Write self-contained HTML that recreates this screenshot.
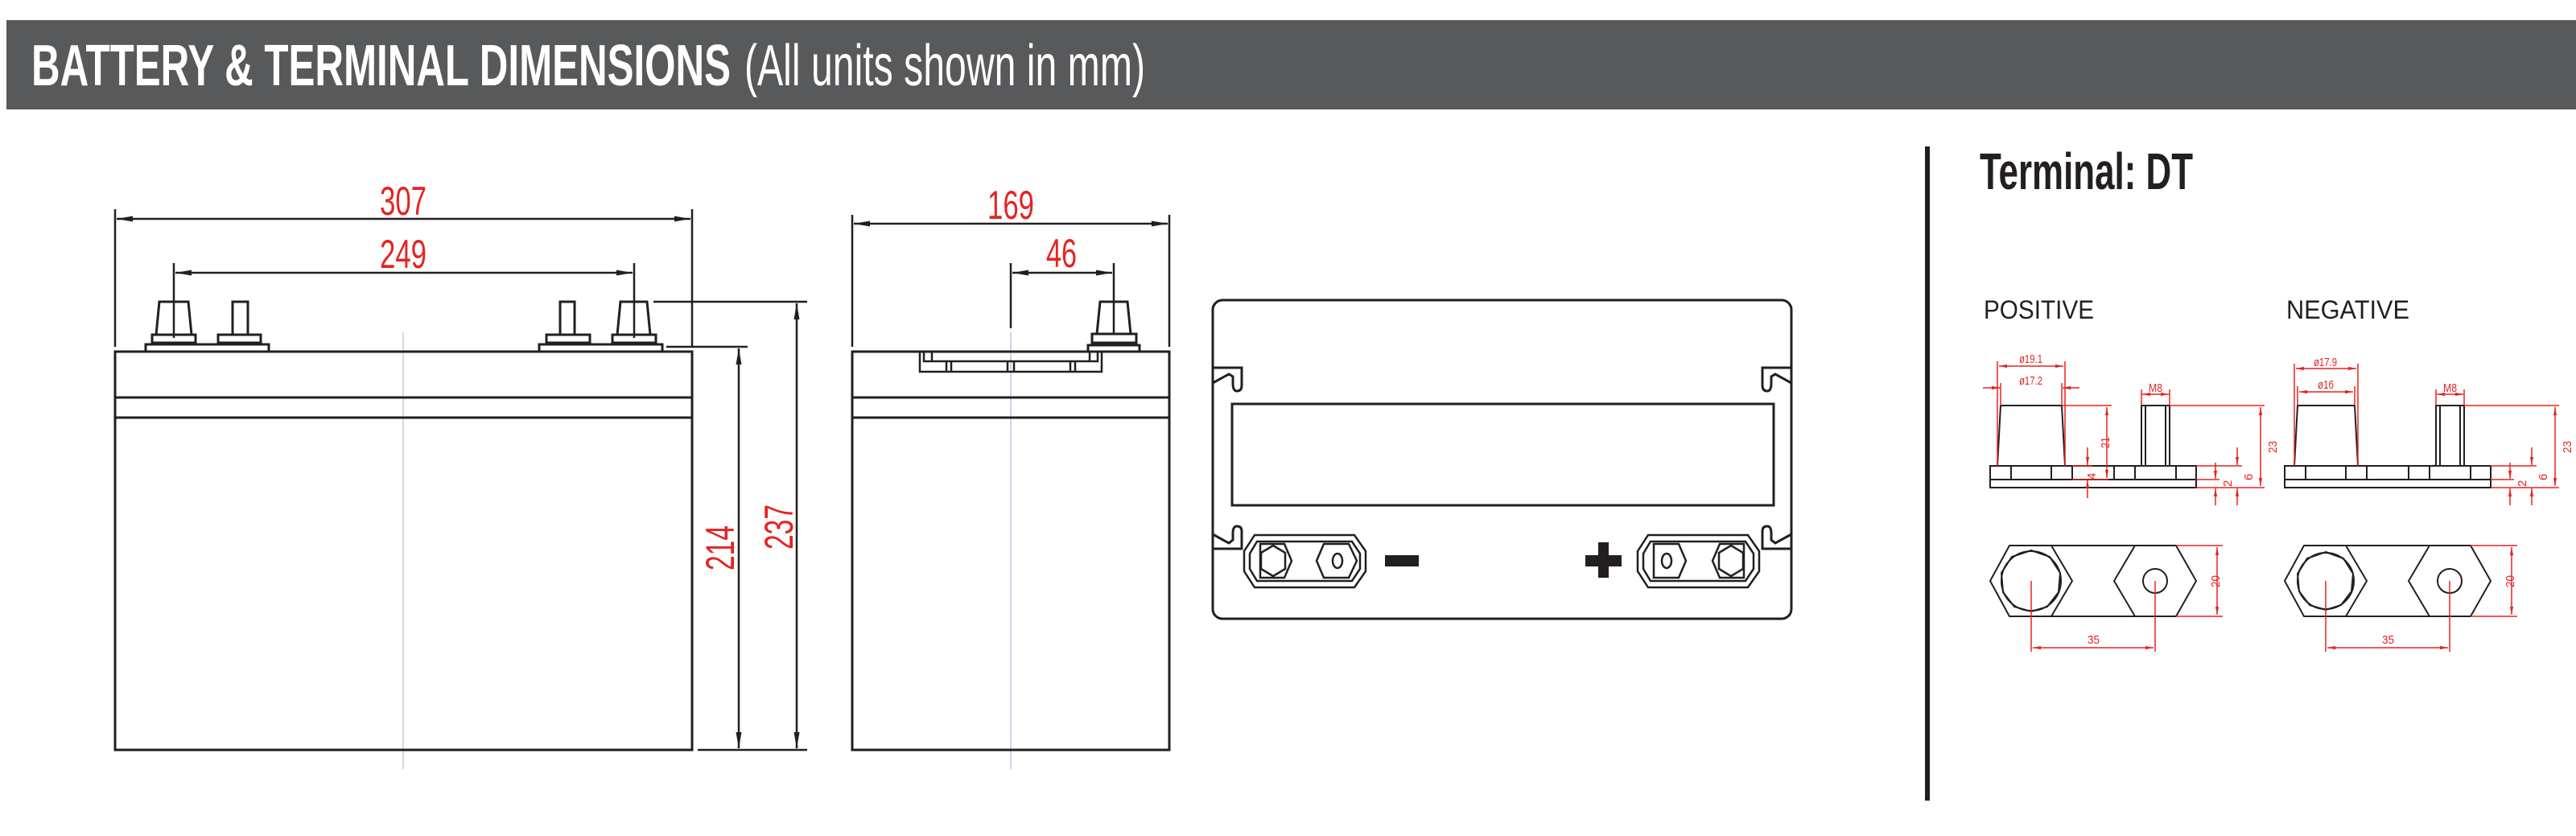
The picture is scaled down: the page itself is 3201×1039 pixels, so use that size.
<!DOCTYPE html>
<html><head><meta charset="utf-8"><style>
html,body{margin:0;padding:0;background:#fff;}
svg{display:block;}
</style></head><body>
<svg width="3201" height="1039" viewBox="0 0 3201 1039" xmlns="http://www.w3.org/2000/svg">
<defs>
<marker id="ak" viewBox="0 0 20 10" refX="20" refY="5" markerWidth="20" markerHeight="10" markerUnits="userSpaceOnUse" orient="auto-start-reverse"><path d="M0,1.5 L20,5 L0,8.5 z" fill="#231f20"/></marker>
<marker id="ar" viewBox="0 0 12 6" refX="12" refY="3" markerWidth="11" markerHeight="5" markerUnits="userSpaceOnUse" orient="auto-start-reverse"><path d="M0,0.5 L12,3 L0,5.5 z" fill="#e52421"/></marker>
</defs>
<rect x="8" y="25" width="3193" height="111" fill="#58595b"/>
<text x="39" y="106" font-family="Liberation Sans Narrow, Liberation Sans, sans-serif" font-weight="bold" font-size="72" fill="#fff" textLength="869" lengthAdjust="spacingAndGlyphs">BATTERY &amp; TERMINAL DIMENSIONS</text>
<text x="925" y="106" font-family="Liberation Sans Narrow, Liberation Sans, sans-serif" font-size="72" fill="#fff" textLength="498" lengthAdjust="spacingAndGlyphs">(All units shown in mm)</text>

<g fill="none" stroke="#231f20" stroke-width="3">
<line x1="501" y1="413" x2="501" y2="956" stroke="#ccc" stroke-width="1.5"/>
<rect x="143" y="437" width="717" height="495"/>
<line x1="143" y1="494" x2="860" y2="494"/>
<line x1="143" y1="519" x2="860" y2="519"/>
<path d="M198,375 L234,375 L238,416 L194,416 Z"/>
<rect x="189" y="416" width="54" height="10"/><rect x="181" y="428" width="153" height="9"/>
<rect x="289" y="375" width="19" height="41"/><rect x="271" y="416" width="53" height="10"/>
<rect x="696" y="375" width="18" height="41"/><rect x="679" y="416" width="54" height="10"/>
<path d="M771,375 L804,375 L808,416 L767,416 Z"/>
<rect x="761" y="416" width="54" height="10"/><rect x="670" y="428" width="153" height="9"/>
<g stroke-width="2.5">
<line x1="143" y1="260" x2="143" y2="431"/><line x1="860" y1="260" x2="860" y2="431"/>
<line x1="145" y1="272" x2="858" y2="272" marker-start="url(#ak)" marker-end="url(#ak)"/>
<line x1="216" y1="327" x2="216" y2="420"/><line x1="788" y1="327" x2="788" y2="420"/>
<line x1="218" y1="339" x2="786" y2="339" marker-start="url(#ak)" marker-end="url(#ak)"/>
<line x1="828" y1="431" x2="929" y2="431"/><line x1="812" y1="375" x2="1003" y2="375"/><line x1="867" y1="932" x2="1003" y2="932"/>
<line x1="918" y1="433" x2="918" y2="930" marker-start="url(#ak)" marker-end="url(#ak)"/>
<line x1="990" y1="377" x2="990" y2="930" marker-start="url(#ak)" marker-end="url(#ak)"/>
</g>
<line x1="1256" y1="413" x2="1256" y2="956" stroke="#b8c8dc" stroke-width="1.5"/>
<rect x="1059" y="437" width="394" height="495"/>
<line x1="1059" y1="494" x2="1453" y2="494"/>
<line x1="1059" y1="519" x2="1453" y2="519"/>
<path d="M1143,437 L1143,462 L1369,462 L1369,437 M1148,437 L1148,449 L1364,449 L1364,437 M1158,437 L1158,449 M1354,437 L1354,449 M1176,449 L1176,462 M1182,449 L1182,462 M1252,449 L1252,462 M1260,449 L1260,462 M1330,449 L1330,462 M1336,449 L1336,462" stroke-width="2.5"/>
<path d="M1367,375 L1401,375 L1405,415 L1363,415 Z"/>
<rect x="1357" y="415" width="55" height="11"/><rect x="1352" y="429" width="64" height="8"/>
<g stroke-width="2.5">
<line x1="1059" y1="267" x2="1059" y2="431"/><line x1="1453" y1="267" x2="1453" y2="431"/>
<line x1="1061" y1="278" x2="1451" y2="278" marker-start="url(#ak)" marker-end="url(#ak)"/>
<line x1="1256" y1="327" x2="1256" y2="408"/><line x1="1384" y1="327" x2="1384" y2="415"/>
<line x1="1258" y1="339" x2="1382" y2="339" marker-start="url(#ak)" marker-end="url(#ak)"/>
</g>
<rect x="1507" y="373" width="719" height="396" rx="12"/>
<rect x="1531" y="502" width="673" height="126"/>
<path d="M1507,457 L1543,457 L1543,479 Q1543,486 1537,486 Q1532,486 1532,476 L1532,468 L1527,465 L1507,476"/>
<path d="M2226,457 L2190,457 L2190,479 Q2190,486 2196,486 Q2201,486 2201,476 L2201,468 L2206,465 L2226,476"/>
<path d="M1507,682 L1543,682 L1543,660 Q1543,654 1537,654 Q1532,654 1532,663 L1532,671 L1527,675 L1507,664"/>
<path d="M2226,682 L2190,682 L2190,660 Q2190,654 2196,654 Q2201,654 2201,663 L2201,671 L2206,675 L2226,664"/>
<g stroke-width="2.5">
<path d="M1559,665 L1683,665 L1697,685 L1697,710 L1683,730 L1559,730 L1546,710 L1546,685 Z"/>
<path d="M1562,673 L1680,673 L1690,688 L1690,707 L1680,722 L1562,722 L1553,707 L1553,688 Z"/>
<path d="M1566,676 L1596,676 L1605,697 L1596,718 L1566,718 Z"/>
<path d="M1582,678 L1597,687 L1597,707 L1582,716 L1567,707 L1567,687 Z"/>
<path d="M1645,676 L1676,676 L1686,697 L1676,718 L1645,718 L1636,697 Z"/>
<ellipse cx="1662" cy="697" rx="6" ry="9"/>
<path d="M2048,665 L2172,665 L2186,685 L2186,710 L2172,730 L2048,730 L2035,710 L2035,685 Z"/>
<path d="M2051,673 L2169,673 L2179,688 L2179,707 L2169,722 L2051,722 L2042,707 L2042,688 Z"/>
<path d="M2055,676 L2086,676 L2095,697 L2086,718 L2055,718 Z"/>
<path d="M2137,676 L2167,676 L2167,718 L2137,718 L2128,697 Z"/>
<path d="M2151,678 L2166,687 L2166,707 L2151,716 L2136,707 L2136,687 Z"/>
<ellipse cx="2071" cy="697" rx="6" ry="9"/>
</g>
</g>
<rect x="1721" y="690" width="42" height="14" fill="#231f20"/>
<rect x="1970" y="690" width="45" height="14" fill="#231f20"/>
<rect x="1986" y="674" width="13" height="44" fill="#231f20"/>

<g fill="#e52421" font-family="Liberation Sans Narrow, Liberation Sans, sans-serif" font-size="50">
<text x="472" y="267" textLength="58" lengthAdjust="spacingAndGlyphs">307</text>
<text x="472" y="333" textLength="58" lengthAdjust="spacingAndGlyphs">249</text>
<text x="1227" y="272" textLength="58" lengthAdjust="spacingAndGlyphs">169</text>
<text x="1300" y="332" textLength="38" lengthAdjust="spacingAndGlyphs">46</text>
<text transform="translate(912,709) rotate(-90)" textLength="56" lengthAdjust="spacingAndGlyphs">214</text>
<text transform="translate(985,683) rotate(-90)" textLength="56" lengthAdjust="spacingAndGlyphs">237</text>
</g>

<rect x="2392" y="182" width="6" height="813" fill="#231f20"/>
<text x="2460" y="235" font-family="Liberation Sans Narrow, Liberation Sans, sans-serif" font-weight="bold" font-size="64" fill="#231f20" textLength="265" lengthAdjust="spacingAndGlyphs">Terminal: DT</text>
<g font-family="Liberation Sans, sans-serif" font-size="32" fill="#231f20">
<text x="2465" y="396" textLength="137" lengthAdjust="spacingAndGlyphs">POSITIVE</text>
<text x="2841" y="396" textLength="153" lengthAdjust="spacingAndGlyphs">NEGATIVE</text>
</g>

<g>
<g fill="none" stroke="#231f20" stroke-width="2">
<rect x="2473" y="579" width="256" height="27"/>
<line x1="2473" y1="596" x2="2729" y2="596"/>
<path d="M2575,579 L2575,596 M2627,579 L2627,596 M2499,579 L2499,596 M2549,579 L2549,596 M2653,579 L2653,596 M2704,579 L2704,596"/>
<path d="M2486,504 L2562,504 L2566,579 L2482,579 Z"/>
<rect x="2661" y="504" width="35" height="75"/>
<path d="M2666,504 L2666,579 M2691,504 L2691,579"/>
<path d="M2473,722 L2497,678 L2549,678 L2575,722 L2549,766 L2497,766 Z"/>
<path d="M2627,722 L2653,678 L2704,678 L2729,722 L2704,766 L2653,766 Z"/>
<path d="M2549,678 L2653,678 M2549,766 L2653,766"/>
<circle cx="2524" cy="722" r="37"/>
<path d="M2524,684 L2547,692 L2560,712 L2558,736 L2544,754 L2524,760 L2503,754 L2489,736 L2487,712 L2500,692 Z"/>
<circle cx="2678" cy="722" r="15"/>
</g>
<g fill="none" stroke="#e52421" stroke-width="1.5">
<line x1="2482" y1="449" x2="2482" y2="579"/><line x1="2566" y1="449" x2="2566" y2="579"/>
<line x1="2484" y1="455" x2="2564" y2="455" marker-start="url(#ar)" marker-end="url(#ar)"/>
<line x1="2486" y1="476" x2="2486" y2="504"/><line x1="2562" y1="476" x2="2562" y2="504"/>
<line x1="2464" y1="482" x2="2485" y2="482" marker-end="url(#ar)"/>
<line x1="2584" y1="482" x2="2563" y2="482" marker-end="url(#ar)"/>
<line x1="2661" y1="484" x2="2661" y2="504"/><line x1="2696" y1="484" x2="2696" y2="504"/>
<line x1="2662" y1="490" x2="2695" y2="490" marker-start="url(#ar)" marker-end="url(#ar)"/>
<line x1="2562" y1="504" x2="2624" y2="504"/>
<line x1="2618" y1="506" x2="2618" y2="594" marker-start="url(#ar)" marker-end="url(#ar)"/>
<line x1="2575" y1="596" x2="2620" y2="596"/>
<line x1="2696" y1="504" x2="2814" y2="504"/>
<line x1="2809" y1="506" x2="2809" y2="604" marker-start="url(#ar)" marker-end="url(#ar)"/>
<line x1="2575" y1="579" x2="2600" y2="579"/>
<line x1="2594" y1="556" x2="2594" y2="578" marker-end="url(#ar)"/>
<line x1="2594" y1="619" x2="2594" y2="597" marker-end="url(#ar)"/>
<line x1="2729" y1="579" x2="2786" y2="579"/><line x1="2729" y1="596" x2="2758" y2="596"/><line x1="2729" y1="606" x2="2814" y2="606"/>
<line x1="2753" y1="575" x2="2753" y2="595" marker-end="url(#ar)"/>
<line x1="2753" y1="628" x2="2753" y2="607" marker-end="url(#ar)"/>
<line x1="2780" y1="556" x2="2780" y2="578" marker-end="url(#ar)"/>
<line x1="2780" y1="628" x2="2780" y2="607" marker-end="url(#ar)"/>
<line x1="2704" y1="678" x2="2762" y2="678"/><line x1="2704" y1="766" x2="2762" y2="766"/>
<line x1="2755" y1="680" x2="2755" y2="764" marker-start="url(#ar)" marker-end="url(#ar)"/>
<line x1="2524" y1="722" x2="2524" y2="810"/><line x1="2678" y1="722" x2="2678" y2="810"/>
<line x1="2526" y1="805" x2="2676" y2="805" marker-start="url(#ar)" marker-end="url(#ar)"/>
</g>
<g fill="#e52421" font-family="Liberation Sans Narrow, Liberation Sans, sans-serif" font-size="15">
<text x="2509" y="451" textLength="29" lengthAdjust="spacingAndGlyphs">ø19.1</text>
<text x="2509" y="478" textLength="29" lengthAdjust="spacingAndGlyphs">ø17.2</text>
<text x="2670" y="487" textLength="17" lengthAdjust="spacingAndGlyphs">M8</text>
<text transform="translate(2621,557) rotate(-90)" textLength="14" lengthAdjust="spacingAndGlyphs">21</text>
<text transform="translate(2604,596) rotate(-90)">4</text>
<text transform="translate(2829,563) rotate(-90)" textLength="15" lengthAdjust="spacingAndGlyphs">23</text>
<text transform="translate(2773,605) rotate(-90)">2</text>
<text transform="translate(2799,597) rotate(-90)">6</text>
<text transform="translate(2758,730) rotate(-90)" textLength="15" lengthAdjust="spacingAndGlyphs">20</text>
<text x="2594" y="800" textLength="15" lengthAdjust="spacingAndGlyphs">35</text>
</g>
</g>

<g transform="translate(366,0)">
<g fill="none" stroke="#231f20" stroke-width="2">
<rect x="2473" y="579" width="256" height="27"/>
<line x1="2473" y1="596" x2="2729" y2="596"/>
<path d="M2575,579 L2575,596 M2627,579 L2627,596 M2499,579 L2499,596 M2549,579 L2549,596 M2653,579 L2653,596 M2704,579 L2704,596"/>
<path d="M2489,504 L2560,504 L2564,579 L2485,579 Z"/>
<rect x="2661" y="504" width="35" height="75"/>
<path d="M2666,504 L2666,579 M2691,504 L2691,579"/>
<path d="M2473,722 L2497,678 L2549,678 L2575,722 L2549,766 L2497,766 Z"/>
<path d="M2627,722 L2653,678 L2704,678 L2729,722 L2704,766 L2653,766 Z"/>
<path d="M2549,678 L2653,678 M2549,766 L2653,766"/>
<circle cx="2524" cy="722" r="35"/>
<path d="M2524,686 L2546,694 L2558,713 L2556,735 L2543,752 L2524,758 L2504,752 L2491,735 L2489,713 L2501,694 Z"/>
<circle cx="2678" cy="722" r="15"/>
</g>
<g fill="none" stroke="#e52421" stroke-width="1.5">
<line x1="2485" y1="452" x2="2485" y2="579"/><line x1="2564" y1="452" x2="2564" y2="579"/>
<line x1="2487" y1="458" x2="2562" y2="458" marker-start="url(#ar)" marker-end="url(#ar)"/>
<line x1="2489" y1="480" x2="2489" y2="504"/><line x1="2560" y1="480" x2="2560" y2="504"/>
<line x1="2491" y1="487" x2="2558" y2="487" marker-start="url(#ar)" marker-end="url(#ar)"/>
<line x1="2661" y1="484" x2="2661" y2="504"/><line x1="2696" y1="484" x2="2696" y2="504"/>
<line x1="2662" y1="490" x2="2695" y2="490" marker-start="url(#ar)" marker-end="url(#ar)"/>
<line x1="2696" y1="504" x2="2814" y2="504"/>
<line x1="2809" y1="506" x2="2809" y2="604" marker-start="url(#ar)" marker-end="url(#ar)"/>
<line x1="2729" y1="579" x2="2786" y2="579"/><line x1="2729" y1="596" x2="2758" y2="596"/><line x1="2729" y1="606" x2="2814" y2="606"/>
<line x1="2753" y1="575" x2="2753" y2="595" marker-end="url(#ar)"/>
<line x1="2753" y1="628" x2="2753" y2="607" marker-end="url(#ar)"/>
<line x1="2780" y1="556" x2="2780" y2="578" marker-end="url(#ar)"/>
<line x1="2780" y1="628" x2="2780" y2="607" marker-end="url(#ar)"/>
<line x1="2704" y1="678" x2="2762" y2="678"/><line x1="2704" y1="766" x2="2762" y2="766"/>
<line x1="2755" y1="680" x2="2755" y2="764" marker-start="url(#ar)" marker-end="url(#ar)"/>
<line x1="2524" y1="722" x2="2524" y2="810"/><line x1="2678" y1="722" x2="2678" y2="810"/>
<line x1="2526" y1="805" x2="2676" y2="805" marker-start="url(#ar)" marker-end="url(#ar)"/>
</g>
<g fill="#e52421" font-family="Liberation Sans Narrow, Liberation Sans, sans-serif" font-size="15">
<text x="2509" y="455" textLength="29" lengthAdjust="spacingAndGlyphs">ø17.9</text>
<text x="2514" y="483" textLength="20" lengthAdjust="spacingAndGlyphs">ø16</text>
<text x="2670" y="487" textLength="17" lengthAdjust="spacingAndGlyphs">M8</text>
<text transform="translate(2829,563) rotate(-90)" textLength="15" lengthAdjust="spacingAndGlyphs">23</text>
<text transform="translate(2773,605) rotate(-90)">2</text>
<text transform="translate(2799,597) rotate(-90)">6</text>
<text transform="translate(2758,730) rotate(-90)" textLength="15" lengthAdjust="spacingAndGlyphs">20</text>
<text x="2594" y="800" textLength="15" lengthAdjust="spacingAndGlyphs">35</text>
</g>
</g>
</svg>
</body></html>
